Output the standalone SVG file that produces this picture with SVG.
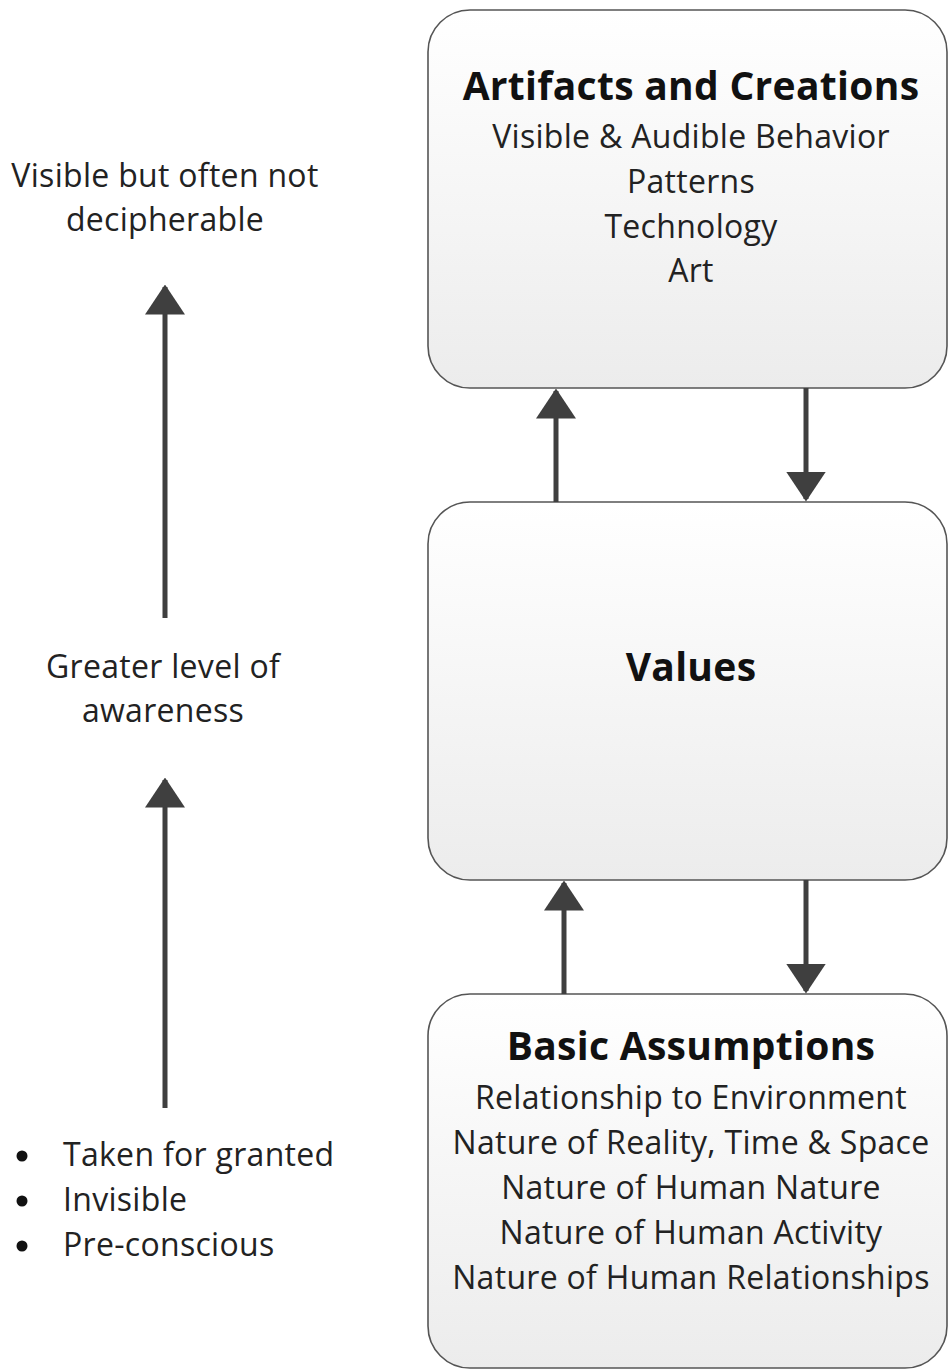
<svg xmlns="http://www.w3.org/2000/svg" width="949" height="1369" viewBox="0 0 949 1369">
<defs>
<linearGradient id="g" x1="0" y1="0" x2="0" y2="1">
<stop offset="0" stop-color="#ffffff"/>
<stop offset="1" stop-color="#ececec"/>
</linearGradient>
<marker id="ah" markerWidth="6" markerHeight="8" refX="5.5" refY="4" orient="auto" markerUnits="strokeWidth" viewBox="0 0 6 8">
<path d="M0,0 L6,4 L0,8 Z" fill="#3f3f3f"/>
</marker>
<style>
.box{fill:url(#g);stroke:#555;stroke-width:1.6}
.t{font-family:"Open Sans","Noto Sans","Liberation Sans",sans-serif;fill:#222;text-anchor:middle;letter-spacing:0.3px}
.h{font-size:39px;font-weight:bold;fill:#111}
.b{font-size:32px}
.l{font-family:"Open Sans","Noto Sans","Liberation Sans",sans-serif;fill:#222;font-size:32px;letter-spacing:0.3px}
.c{stroke:#3f3f3f;stroke-width:5;fill:none;marker-end:url(#ah)}
</style>
</defs>
<rect width="949" height="1369" fill="#fff"/>
<g id="artifacts">
<rect class="box" x="428" y="10" width="519" height="378" rx="42"/>
<text class="t h" x="691" y="100">Artifacts and Creations</text>
<text class="t b" x="691" y="148">Visible &amp; Audible Behavior</text>
<text class="t b" x="691" y="193">Patterns</text>
<text class="t b" x="691" y="238">Technology</text>
<text class="t b" x="691" y="282">Art</text>
</g>
<g id="values">
<rect class="box" x="428" y="502" width="519" height="378" rx="42"/>
<text class="t h" x="691" y="681">Values</text>
</g>
<g id="assumptions">
<rect class="box" x="428" y="994" width="519" height="374" rx="42"/>
<text class="t h" x="691" y="1060">Basic Assumptions</text>
<text class="t b" x="691" y="1109">Relationship to Environment</text>
<text class="t b" x="691" y="1154">Nature of Reality, Time &amp; Space</text>
<text class="t b" x="691" y="1199">Nature of Human Nature</text>
<text class="t b" x="691" y="1244">Nature of Human Activity</text>
<text class="t b" x="691" y="1289">Nature of Human Relationships</text>
</g>
<g id="label-visible">
<text class="t b" x="165" y="187">Visible but often not</text>
<text class="t b" x="165" y="231">decipherable</text>
</g>
<g id="label-awareness">
<text class="t b" x="163" y="678">Greater level of</text>
<text class="t b" x="163" y="722">awareness</text>
</g>
<g id="label-invisible">
<circle cx="22" cy="1156" r="5.5" fill="#111"/>
<circle cx="22" cy="1201" r="5.5" fill="#111"/>
<circle cx="22" cy="1246" r="5.5" fill="#111"/>
<text class="l" x="63" y="1166">Taken for granted</text>
<text class="l" x="63" y="1211">Invisible</text>
<text class="l" x="63" y="1256">Pre-conscious</text>
</g>
<g id="connectors">
<path class="c" d="M556,502 V391"/>
<path class="c" d="M806,388 V499"/>
<path class="c" d="M564,994 V883"/>
<path class="c" d="M806,880 V991"/>
<path class="c" d="M165,618 V287"/>
<path class="c" d="M165,1108 V780"/>
</g>
</svg>
